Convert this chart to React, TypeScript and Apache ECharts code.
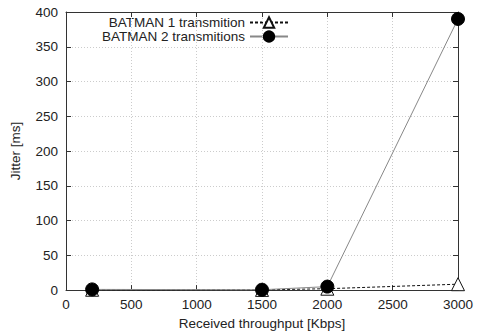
import React, { useEffect, useRef } from "react";
import * as echarts from "echarts";

const throughput = [200, 1500, 2000, 3000];
const batman1 = [0.5, 0.3, 2, 8.5];
const batman2 = [1, 0.5, 5, 390];
const seriesNames = ["BATMAN 1 transmition", "BATMAN 2 transmitions"];

const FONT = "Liberation Sans";
const FS = 13.5;

export default function App() {
  const ref = useRef<HTMLDivElement>(null);
  useEffect(() => {
    const chart = echarts.init(ref.current!, undefined, { renderer: "svg" });
    const axisLine = { show: true, onZero: false, lineStyle: { color: "#333", width: 1 } };
    const tick = { show: true, inside: true, length: 5, lineStyle: { color: "#333" } };
    const split = {
      show: true,
      showMinLine: false,
      showMaxLine: false,
      lineStyle: { color: "#ccc", type: [1, 2], width: 1 },
    };
    const legendBase = {
      orient: "horizontal",
      align: "right",
      right: 188,
      padding: 0,
      itemWidth: 38,
      itemHeight: 13,
      textStyle: { fontFamily: FONT, fontSize: 13.5, color: "#222", lineHeight: 13 },
    };
    chart.setOption({
      animation: false,
      textStyle: { fontFamily: FONT },
      grid: { left: 65, right: 19, top: 12, bottom: 42, show: false },
      legend: [
        { ...legendBase, top: 15.5, data: [seriesNames[0]] },
        { ...legendBase, top: 29.5, data: [seriesNames[1]] },
      ],
      xAxis: [
        {
          type: "value",
          min: 0,
          max: 3000,
          interval: 500,
          axisLine,
          axisTick: tick,
          axisLabel: { color: "#222", fontSize: FS, margin: 7, fontFamily: FONT, formatter: (v: number) => String(v) },
          splitLine: split,
          name: "Received throughput [Kbps]",
          nameLocation: "middle",
          nameGap: 25,
          nameTextStyle: { color: "#222", fontSize: FS, fontFamily: FONT },
          z: 5,
        },
        {
          type: "value",
          position: "top",
          min: 0,
          max: 3000,
          interval: 500,
          axisLine,
          axisTick: tick,
          axisLabel: { show: false },
          splitLine: { show: false },
          z: 5,
        },
      ],
      yAxis: [
        {
          type: "value",
          min: 0,
          max: 400,
          interval: 50,
          axisLine,
          axisTick: tick,
          axisLabel: { color: "#222", fontSize: FS, margin: 8, fontFamily: FONT },
          splitLine: split,
          name: "Jitter [ms]",
          nameLocation: "middle",
          nameGap: 44,
          nameTextStyle: { color: "#222", fontSize: FS, fontFamily: FONT },
          z: 5,
        },
        {
          type: "value",
          position: "right",
          min: 0,
          max: 400,
          interval: 50,
          axisLine,
          axisTick: tick,
          axisLabel: { show: false },
          splitLine: { show: false },
          z: 5,
        },
      ],
      series: [
        {
          name: seriesNames[0],
          type: "line",
          clip: false,
          data: throughput.map((x, i) => [x, batman1[i]]),
          symbol: "triangle",
          symbolSize: 13,
          showAllSymbol: true,
          lineStyle: { color: "#111", width: 1, type: [3, 2] },
          itemStyle: { color: "#fff", borderColor: "#111", borderWidth: 1 },
          z: 6,
        },
        {
          name: seriesNames[1],
          type: "line",
          clip: false,
          data: throughput.map((x, i) => [x, batman2[i]]),
          symbol: "circle",
          symbolSize: 13,
          lineStyle: { color: "#888", width: 1 },
          itemStyle: { color: "#000", borderColor: "#000", borderWidth: 1 },
          z: 7,
        },
      ],
    });
    return () => chart.dispose();
  }, []);
  return <div ref={ref} style={{ width: 477, height: 335, position: "absolute", left: 0, top: 0 }} />;
}
